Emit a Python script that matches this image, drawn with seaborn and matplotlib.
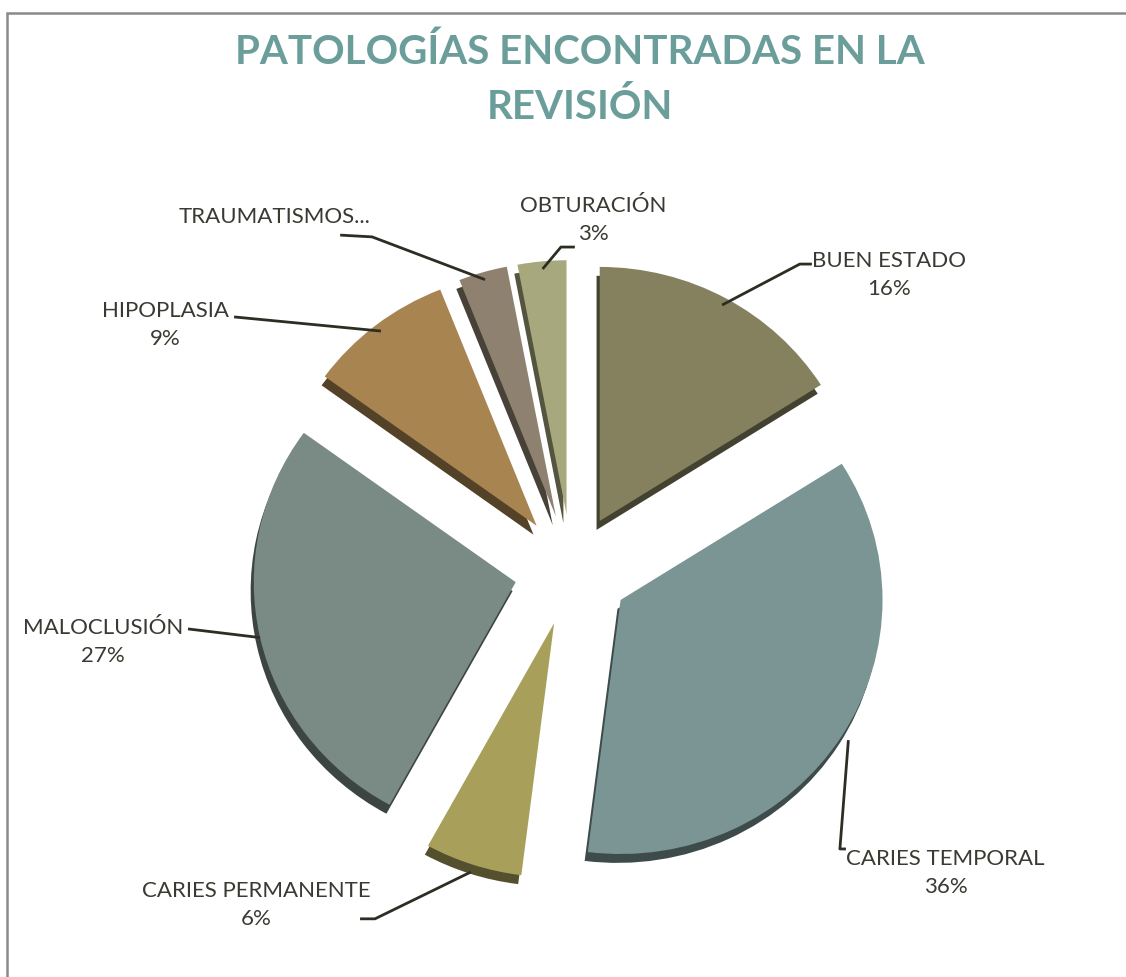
import numpy as np
import matplotlib.pyplot as plt
import matplotlib.colors as mcolors
import seaborn as sns

# data
categories = ['BUEN ESTADO', 'CARIES TEMPORAL', 'CARIES PERMANENTE', 'MALOCLUSIÓN',
              'HIPOPLASIA', 'TRAUMATISMOS...', 'OBTURACIÓN']
percent = [16, 36, 6, 27, 9, 3, 3]
show_pct = [True, True, True, True, True, False, True]
colors = ['#85815F', '#7A9594', '#A8A05A', '#7A8A84', '#A88450', '#8E8170', '#A7A87E']

sns.set_theme(style="white")
plt.rcParams['font.family'] = ['Lato', 'DejaVu Sans']

fig = plt.figure(figsize=(11.26, 9.78), dpi=100)
ax = fig.add_axes([0.1474, 0.00716, 0.7211, 0.8303])

explode = [0.22] * len(percent)

# darker copy below, shifted a bit -> gives the slab thickness
dark = [tuple(np.array(mcolors.to_rgb(c)) * 0.5) for c in colors]
ax.pie(percent, colors=dark, explode=explode, startangle=90, counterclock=False,
       radius=1, center=(-0.012, -0.035), wedgeprops=dict(linewidth=0))
wedges, _ = ax.pie(percent, colors=colors, explode=explode, startangle=90,
                   counterclock=False, radius=1, wedgeprops=dict(linewidth=0))

# slight vertical squash (tilted 3d look)
ax.set_xlim(-1.55, 1.55)
ax.set_ylim(-1.598 + 0.0236, 1.598 + 0.0236)
ax.set_aspect('auto')
ax.axis('off')

# label layout: text position, elbow of the leader, end of leader
label_pos = [(1.210, 1.165), (1.427, -1.188), (-1.206, -1.314), (-1.790, -0.279),
             (-1.553, 0.968), (-1.134, 1.393), (0.080, 1.381)]
elbows = [((0.870, 1.204), (0.916, 1.204)),
          ((1.023, -1.098), (1.046, -1.098)),
          ((-0.752, -1.373), (-0.809, -1.373)),
          ((-1.466, -0.232), (-1.466, -0.232)),
          ((-1.29, 0.996), (-1.29, 0.996)),
          ((-0.763, 1.311), (-0.885, 1.318)),
          ((-0.042, 1.271), (0.011, 1.271))]
r_leader = [0.97, 1.03, 1.03, 1.0, 0.97, 0.97, 0.97]

for w, name, p, sp, pos, (el, end), rl in zip(wedges, categories, percent, show_pct,
                                              label_pos, elbows, r_leader):
    mid = np.deg2rad((w.theta1 + w.theta2) / 2)
    cx, cy = w.center
    sx, sy = cx + rl * np.cos(mid), cy + rl * np.sin(mid)
    ax.plot([sx, el[0], end[0]], [sy, el[1], end[1]], color='#2e2d24', lw=2,
            solid_capstyle='butt', clip_on=False)
    txt = f'{name}\n{p}%' if sp else name
    ax.text(pos[0], pos[1], txt, ha='center', va='center', fontsize=16,
            color='#3a3a33', linespacing=1.5, clip_on=False)

fig.text(0.515, 0.918, 'PATOLOGÍAS ENCONTRADAS EN LA\nREVISIÓN', ha='center', va='center',
         fontsize=29, fontweight='bold', color='#6B9E9A', linespacing=1.55)

# chart area border (only top and left visible)
fig.add_artist(plt.Rectangle((0.0062, -0.1), 1.2, 1.0857, transform=fig.transFigure,
                             fill=False, edgecolor='#8a8a8a', lw=1.8))

fig.savefig('out.png', dpi=100)
